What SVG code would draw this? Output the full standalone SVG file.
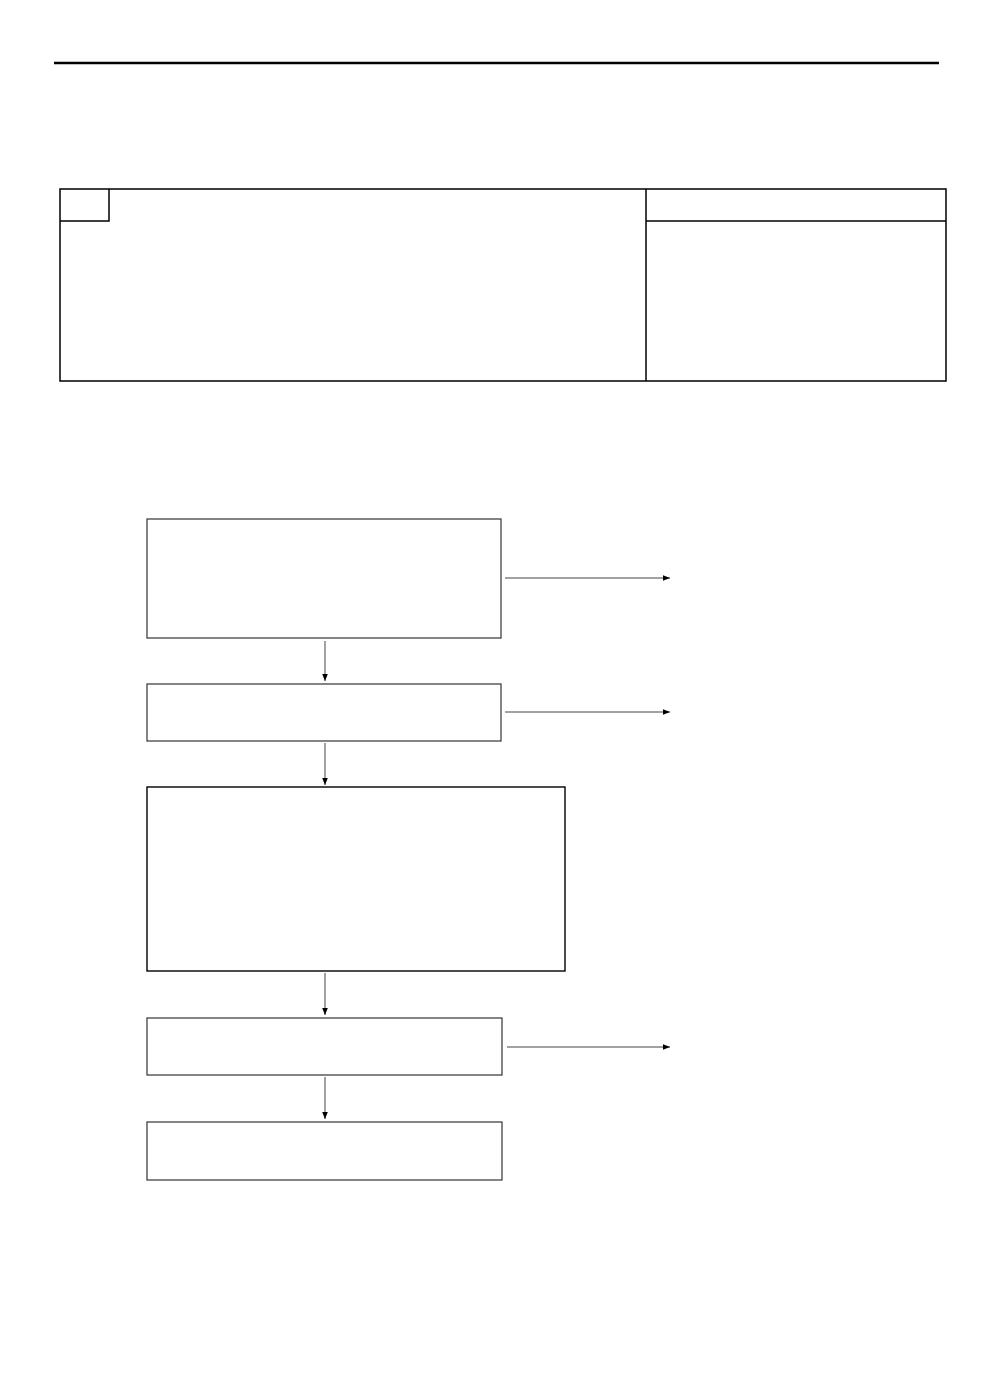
<svg xmlns="http://www.w3.org/2000/svg" width="992" height="1390" viewBox="0 0 992 1390">
<style>
.tbl{fill:none;stroke:#000;stroke-width:1.5}
.box{fill:#fff;stroke:#333;stroke-width:1.2}
.con{fill:none;stroke:#444;stroke-width:1}
</style>
<defs>
<marker id="ah" viewBox="0 0 10 10" refX="10" refY="5" markerWidth="7" markerHeight="7" markerUnits="userSpaceOnUse" orient="auto">
<path d="M0,1 L10,5 L0,9 z" fill="#000"/>
</marker>
</defs>
<rect width="992" height="1390" fill="#fff"/>
<line x1="54" y1="63" x2="939" y2="63" stroke="#000" stroke-width="2.5"/>
<g id="table">
<rect class="tbl" x="60" y="189" width="886" height="192"/>
<line class="tbl" x1="646" y1="189" x2="646" y2="381"/>
<line class="tbl" x1="646" y1="221" x2="946" y2="221"/>
<polyline class="tbl" points="60,221 109,221 109,189"/>
</g>
<g id="connectors">
<line class="con" x1="505" y1="578" x2="670" y2="578" marker-end="url(#ah)"/>
<line class="con" x1="325" y1="641" x2="325" y2="681" marker-end="url(#ah)"/>
<line class="con" x1="505" y1="712" x2="670" y2="712" marker-end="url(#ah)"/>
<line class="con" x1="325" y1="743" x2="325" y2="785" marker-end="url(#ah)"/>
<line class="con" x1="325" y1="973" x2="325" y2="1015" marker-end="url(#ah)"/>
<line class="con" x1="507" y1="1047" x2="670" y2="1047" marker-end="url(#ah)"/>
<line class="con" x1="325" y1="1077" x2="325" y2="1119" marker-end="url(#ah)"/>
</g>
<g id="node1"><rect class="box" x="147" y="519" width="354" height="119"/></g>
<g id="node2"><rect class="box" x="147" y="684" width="354" height="57"/></g>
<g id="node3"><rect class="box" x="147" y="787" width="418" height="184" style="stroke:#000;stroke-width:1.4"/></g>
<g id="node4"><rect class="box" x="147" y="1018" width="355" height="57"/></g>
<g id="node5"><rect class="box" x="147" y="1122" width="355" height="58"/></g>
</svg>
